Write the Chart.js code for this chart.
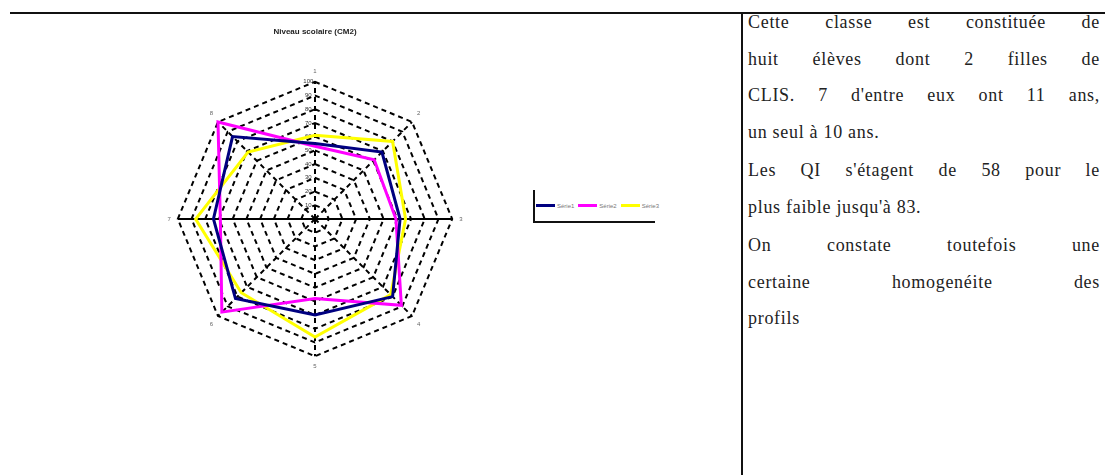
<!DOCTYPE html>
<html lang="fr">

<head>
  <meta charset="UTF-8" />
  <title>Profils de la classe</title>
  <script src="https://cdn.jsdelivr.net/npm/chart.js"></script>
  <style>
    body {
      margin: 0;
      width: 1105px;
      height: 475px;
      background: #fff;
      position: relative;
      overflow: hidden;
      font-family: "Liberation Serif", "DejaVu Serif", serif;
    }

    .trait-haut {
      position: absolute;
      left: 10px;
      top: 12px;
      width: 1095px;
      height: 2px;
      background: #111;
    }

    .trait-vertical {
      position: absolute;
      left: 741px;
      top: 12px;
      width: 2px;
      height: 463px;
      background: #111;
    }

    #radar {
      position: absolute;
      left: 160px;
      top: 22px;
    }

    .legende {
      position: absolute;
      left: 533px;
      top: 190px;
      width: 122px;
      height: 33px;
      border-left: 2px solid #111;
      border-bottom: 2px solid #111;
      box-sizing: border-box;
      display: flex;
      align-items: center;
      padding-left: 1px;
    }

    .legende .item {
      display: flex;
      align-items: center;
      margin-right: 4px;
    }

    .legende .trait {
      width: 19px;
      height: 3px;
      margin-right: 2px;
    }

    .legende .nom {
      font-family: Arial, "Liberation Sans", sans-serif;
      font-size: 6px;
      color: #777;
    }

    /* colonne de texte : une ligne par bloc, justifiée */
    .texte {
      position: absolute;
      left: 748px;
      top: 4px;
      width: 352px;
      font-size: 18px;
      letter-spacing: 0.7px;
      line-height: 36.5px;
      color: #222;
    }

    .texte .l {
      text-align: justify;
      text-align-last: justify;
      white-space: nowrap;
    }

    .texte .l.fin {
      text-align-last: left;
    }

    .texte .p {
      margin-bottom: 2px;
    }
  </style>
</head>

<body>

  <div class="trait-haut"></div>
  <div class="trait-vertical"></div>

  <canvas id="radar" width="310" height="350"></canvas>
  <div class="legende" id="legende"></div>

  <div class="texte">
    <div class="p">
      <div class="l">Cette classe est constituée de</div>
      <div class="l">huit élèves dont 2 filles de</div>
      <div class="l">CLIS. 7 d'entre eux ont 11 ans,</div>
      <div class="l fin">un seul à 10 ans.</div>
    </div>
    <div class="p">
      <div class="l">Les QI s'étagent de 58 pour le</div>
      <div class="l fin">plus faible jusqu'à 83.</div>
    </div>
    <div class="p">
      <div class="l">On constate toutefois une</div>
      <div class="l">certaine homogenéite des</div>
      <div class="l fin">profils</div>
    </div>
  </div>

  <script>
    const titre = 'Niveau scolaire (CM2)';
    const axes = ['1', '2', '3', '4', '5', '6', '7', '8'];
    const series = ['Série1', 'Série2', 'Série3'];
    const couleurs = ['#000080', '#ff00ff', '#ffff00'];

    const serie1 = [55, 69, 62, 80, 70, 82, 74, 85];
    const serie2 = [53, 61, 59, 89, 58, 96, 69, 100];
    const serie3 = [61, 80, 66, 78, 86, 76, 87, 69];
    const valeurs = [serie1, serie2, serie3];

    const ctx = document.getElementById('radar').getContext('2d');

    const chart = new Chart(ctx, {
      type: 'radar',
      data: {
        labels: axes,
        datasets: series.map((nom, i) => ({
          label: nom,
          data: valeurs[i],
          borderColor: couleurs[i],
          backgroundColor: couleurs[i],
          borderWidth: 3,
          fill: false,
          pointRadius: 0,
          tension: 0
        }))
      },
      options: {
        responsive: false,
        animation: false,
        plugins: {
          legend: { display: false },
          tooltip: { enabled: false },
          title: {
            display: true,
            text: titre,
            color: '#222',
            font: { family: 'Arial', size: 8, weight: 'bold' },
            padding: { top: 5, bottom: 31 }
          }
        },
        scales: {
          r: {
            min: 0,
            max: 100,
            ticks: {
              stepSize: 10,
              color: '#333',
              font: { family: 'Arial', size: 6 },
              showLabelBackdrop: false,
              backdropPadding: 1,
              // décale les valeurs à gauche de l'axe vertical
              callback: (v) => v + '\u2007\u2007\u2007\u2007'
            },
            grid: {
              color: '#000',
              lineWidth: 2,
              circular: false
            },
            border: {
              dash: [5, 4]
            },
            angleLines: {
              color: '#000',
              lineWidth: 2,
              borderDash: (c) => (c.index === 2 || c.index === 6) ? [] : [5, 4]
            },
            pointLabels: {
              color: '#666',
              font: { family: 'Arial', size: 6 },
              padding: 3
            }
          }
        }
      }
    });

    // légende à côté du graphique, construite à partir des séries
    const legende = document.getElementById('legende');
    chart.data.datasets.forEach((ds) => {
      const item = document.createElement('div');
      item.className = 'item';
      item.innerHTML = '<span class="trait" style="background:' + ds.borderColor + '"></span>' +
        '<span class="nom">' + ds.label + '</span>';
      legende.appendChild(item);
    });
  </script>
</body>

</html>
